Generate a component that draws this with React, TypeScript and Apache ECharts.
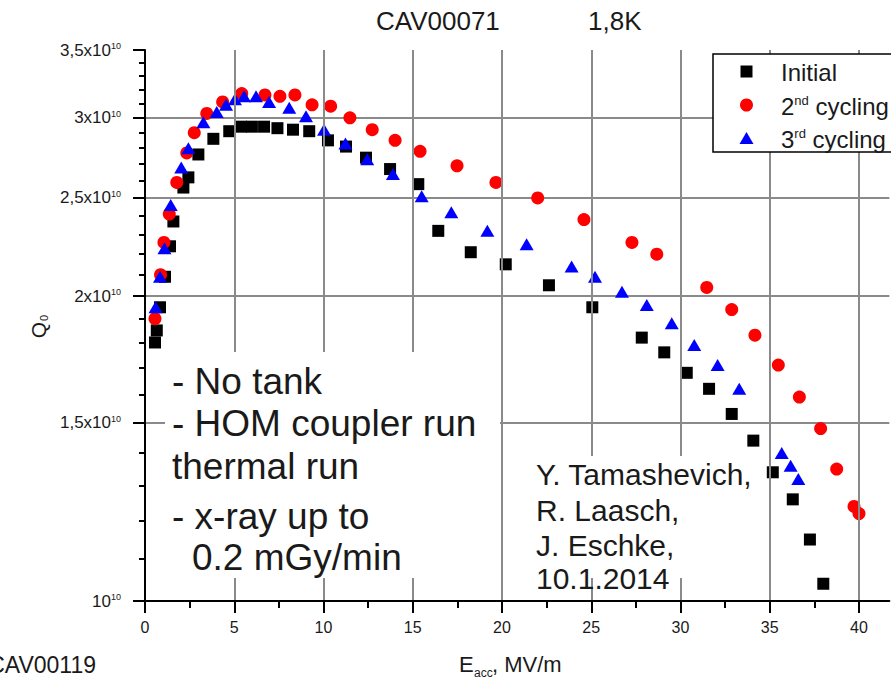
import React, { useEffect, useRef } from 'react';
import * as echarts from 'echarts';

const FONT = '"Liberation Sans", Arial, sans-serif';
const TXT = '#1a1a1a';
const GRID = '#8a8a8a';

// E_acc (MV/m) and Q0 (in units of 1e10)
const initialE = [0.56, 0.66, 0.84, 1.12, 1.40, 1.59, 2.15, 2.43, 2.99, 3.83, 4.72, 5.38, 5.99, 6.67, 7.42, 8.29, 9.20, 10.25, 11.26, 12.38, 13.73, 15.31, 16.43, 18.25, 20.21, 22.63, 25.06, 27.83, 29.09, 30.35, 31.60, 32.87, 34.08, 35.17, 36.29, 37.25, 38.00];
const initialQ = [1.80, 1.85, 1.95, 2.09, 2.24, 2.37, 2.56, 2.62, 2.76, 2.86, 2.91, 2.94, 2.94, 2.94, 2.93, 2.92, 2.91, 2.85, 2.81, 2.74, 2.67, 2.58, 2.32, 2.21, 2.15, 2.05, 1.95, 1.82, 1.76, 1.68, 1.62, 1.53, 1.44, 1.34, 1.26, 1.15, 1.04];

const secondE = [0.56, 0.87, 1.06, 1.36, 1.78, 2.34, 2.76, 3.46, 4.35, 5.42, 6.72, 7.56, 8.40, 9.36, 10.40, 11.48, 12.73, 14.01, 15.41, 17.48, 19.66, 22.00, 24.59, 27.28, 28.67, 31.47, 32.87, 34.17, 35.48, 36.66, 37.85, 38.75, 39.72, 40.00];
const secondQ = [1.90, 2.10, 2.26, 2.41, 2.59, 2.77, 2.90, 3.03, 3.11, 3.17, 3.16, 3.15, 3.16, 3.09, 3.08, 3.00, 2.92, 2.85, 2.78, 2.69, 2.59, 2.50, 2.38, 2.26, 2.20, 2.04, 1.94, 1.83, 1.71, 1.59, 1.48, 1.35, 1.24, 1.22];

const thirdE = [0.59, 0.84, 1.09, 1.44, 2.03, 2.43, 3.27, 4.02, 4.54, 5.04, 5.55, 6.22, 6.95, 8.08, 9.02, 10.03, 11.23, 12.45, 13.89, 15.50, 17.16, 19.18, 21.38, 23.90, 25.21, 26.72, 28.11, 29.51, 30.77, 32.08, 33.29, 35.67, 36.17, 36.60];
const thirdQ = [1.95, 2.09, 2.23, 2.46, 2.68, 2.80, 2.97, 3.04, 3.09, 3.13, 3.15, 3.15, 3.11, 3.07, 3.01, 2.92, 2.83, 2.73, 2.64, 2.51, 2.42, 2.32, 2.25, 2.14, 2.09, 2.02, 1.96, 1.88, 1.79, 1.71, 1.62, 1.40, 1.36, 1.32];

// tick values
const xMajorTicks = [0, 5, 10, 15, 20, 25, 30, 35, 40];
const xMinorTicks = [2.5, 7.5, 12.5, 17.5, 22.5, 27.5, 32.5, 37.5];
const yMajorQ = [1, 1.5, 2, 2.5, 3, 3.5];
const yGridQ = [1.5, 2, 2.5, 3];
const yMinorQ = [1.1, 1.2, 1.3, 1.4, 1.6, 1.7, 1.8, 1.9, 2.1, 2.2, 2.3, 2.4, 2.6, 2.7, 2.8, 2.9, 3.1, 3.2, 3.3, 3.4];

const toLog = (q: number) => 10 + Math.log10(q);
const Y_MIN = toLog(1);
const Y_MAX = toLog(3.5);
const X_MAX = 41.7;

const pairs = (es: number[], qs: number[]) => es.map((e, i) => [e, toLog(qs[i])]);

const txt = (text: string, x: number, y: number, fontSize: number, extra: any = {}) => ({
  type: 'text',
  x,
  y,
  z: 20,
  style: {
    text,
    fontSize,
    fontFamily: FONT,
    fill: extra.fill || TXT,
    align: extra.align || 'left',
    verticalAlign: 'middle',
    rich: extra.rich,
  },
});

export default function App() {
  const ref = useRef<HTMLDivElement>(null);
  useEffect(() => {
    const chart = echarts.init(ref.current!, null, { renderer: 'svg' });
    const supRich = {
      sup: { fontSize: 13, fontFamily: FONT, color: TXT, fill: TXT, verticalAlign: 'top', lineHeight: 12 },
    };
    const option: any = {
      animation: false,
      backgroundColor: '#fff',
      grid: { left: 145, top: 50, bottom: 79, width: X_MAX * 17.85, containLabel: false },
      xAxis: [
        {
          type: 'value',
          min: 0,
          max: X_MAX,
          position: 'bottom',
          z: 3,
          axisLine: { show: true, onZero: false, lineStyle: { color: '#000', width: 2 } },
          axisTick: { show: true, customValues: xMajorTicks, length: 12, lineStyle: { color: '#000', width: 2 } },
          axisLabel: { customValues: xMajorTicks, fontSize: 16, color: TXT, fontFamily: FONT, margin: 18 },
          splitLine: { show: true, lineStyle: { color: GRID, width: 2 } },
        },
        {
          type: 'value',
          min: 0,
          max: X_MAX,
          position: 'bottom',
          axisLine: { show: false },
          axisTick: { show: true, customValues: xMinorTicks, length: 7, lineStyle: { color: '#000', width: 2 } },
          axisLabel: { show: false },
          splitLine: { show: false },
        },
      ],
      yAxis: [
        {
          type: 'value',
          min: Y_MIN,
          max: Y_MAX,
          position: 'left',
          z: 3,
          axisLine: { show: true, onZero: false, lineStyle: { color: '#000', width: 2 } },
          axisTick: { show: true, customValues: yMajorQ.map(toLog), length: 12, lineStyle: { color: '#000', width: 2 } },
          axisLabel: {
            customValues: yMajorQ.map(toLog),
            fontSize: 17,
            color: TXT,
            fontFamily: FONT,
            margin: 24,
            formatter: (v: number) => {
              const q = Math.round(Math.pow(10, v - 10) * 10) / 10;
              if (q === 1) return '10{sup|10}';
              return String(q).replace('.', ',') + 'x10{sup|10}';
            },
            rich: { sup: { fontSize: 9, fontFamily: FONT, color: TXT, verticalAlign: 'top', lineHeight: 9 } },
          },
          splitLine: { show: false },
        },
        {
          type: 'value',
          min: Y_MIN,
          max: Y_MAX,
          position: 'left',
          axisLine: { show: false },
          axisTick: { show: true, customValues: yMinorQ.map(toLog), length: 6, lineStyle: { color: '#000', width: 2 } },
          axisLabel: { show: false },
          splitLine: { show: false },
        },
        {
          type: 'value',
          min: Y_MIN,
          max: Y_MAX,
          position: 'left',
          axisLine: { show: false },
          axisTick: { show: false, customValues: yGridQ.map(toLog) },
          axisLabel: { show: false },
          splitLine: { show: true, lineStyle: { color: GRID, width: 2 } },
        },
      ],
      series: [
        {
          name: 'Initial',
          type: 'scatter',
          symbol: 'rect',
          symbolSize: 12,
          itemStyle: { color: '#000', opacity: 1 },
          data: pairs(initialE, initialQ),
        },
        {
          name: '2nd cycling',
          type: 'scatter',
          symbol: 'circle',
          symbolSize: 13,
          itemStyle: { color: '#ff0000', opacity: 1 },
          data: pairs(secondE, secondQ),
        },
        {
          name: '3rd cycling',
          type: 'scatter',
          symbol: 'triangle',
          symbolSize: [14, 12],
          itemStyle: { color: '#0000ff', opacity: 1 },
          data: pairs(thirdE, thirdQ),
        },
      ],
      graphic: [
        // title
        txt('CAV00071', 376, 21, 26),
        txt('1,8K', 588, 21, 26),
        // legend
        { type: 'rect', z: 15, shape: { x: 713, y: 54, width: 200, height: 98 }, style: { fill: '#fff', stroke: '#000', lineWidth: 1.5 } },
        { type: 'rect', z: 20, shape: { x: 740.5, y: 65.5, width: 12, height: 12 }, style: { fill: '#000' } },
        { type: 'circle', z: 20, shape: { cx: 746.5, cy: 105, r: 6.5 }, style: { fill: '#ff0000' } },
        { type: 'polygon', z: 20, shape: { points: [[746.5, 132], [753.5, 144], [739.5, 144]] }, style: { fill: '#0000ff' } },
        txt('Initial', 781, 72, 24),
        txt('2{sup|nd} cycling', 781, 106, 24, { rich: supRich }),
        txt('3{sup|rd} cycling', 781, 139, 24, { rich: supRich }),
        // annotation boxes
        { type: 'rect', z: 15, shape: { x: 165, y: 352, width: 335, height: 226 }, style: { fill: '#fff' } },
        txt('- No tank', 172, 381, 37),
        txt('- HOM coupler run', 172, 423, 37),
        txt('thermal run', 172, 466, 37),
        txt('- x-ray up to', 172, 516, 37),
        txt('0.2 mGy/min', 192, 557, 37),
        { type: 'rect', z: 15, shape: { x: 531, y: 456, width: 231, height: 122 }, style: { fill: '#fff' } },
        txt('Y. Tamashevich,', 536, 474, 30),
        txt('R. Laasch,', 536, 510, 30),
        txt('J. Eschke,', 536, 545, 30),
        txt('10.1.2014', 536, 578, 30),
        // bottom texts
        txt('CAV00119', 96, 665, 23, { align: 'right' }),
        txt('E', 459, 664, 22),
        txt('acc', 474, 673, 12),
        txt(', MV/m', 492, 664, 22),
        {
          type: 'group',
          x: 38,
          y: 330,
          rotation: Math.PI / 2,
          children: [
            { type: 'text', x: 0, y: 0, z: 20, style: { text: 'Q', fontSize: 21, fontFamily: FONT, fill: TXT, align: 'center', verticalAlign: 'middle' } },
            { type: 'text', x: 12, y: 6, z: 20, style: { text: '0', fontSize: 11, fontFamily: FONT, fill: TXT, align: 'center', verticalAlign: 'middle' } },
          ],
        },
      ],
    };
    chart.setOption(option);
    return () => chart.dispose();
  }, []);
  return <div ref={ref} style={{ position: 'absolute', left: 0, top: 0, width: 891, height: 680 }} />;
}
